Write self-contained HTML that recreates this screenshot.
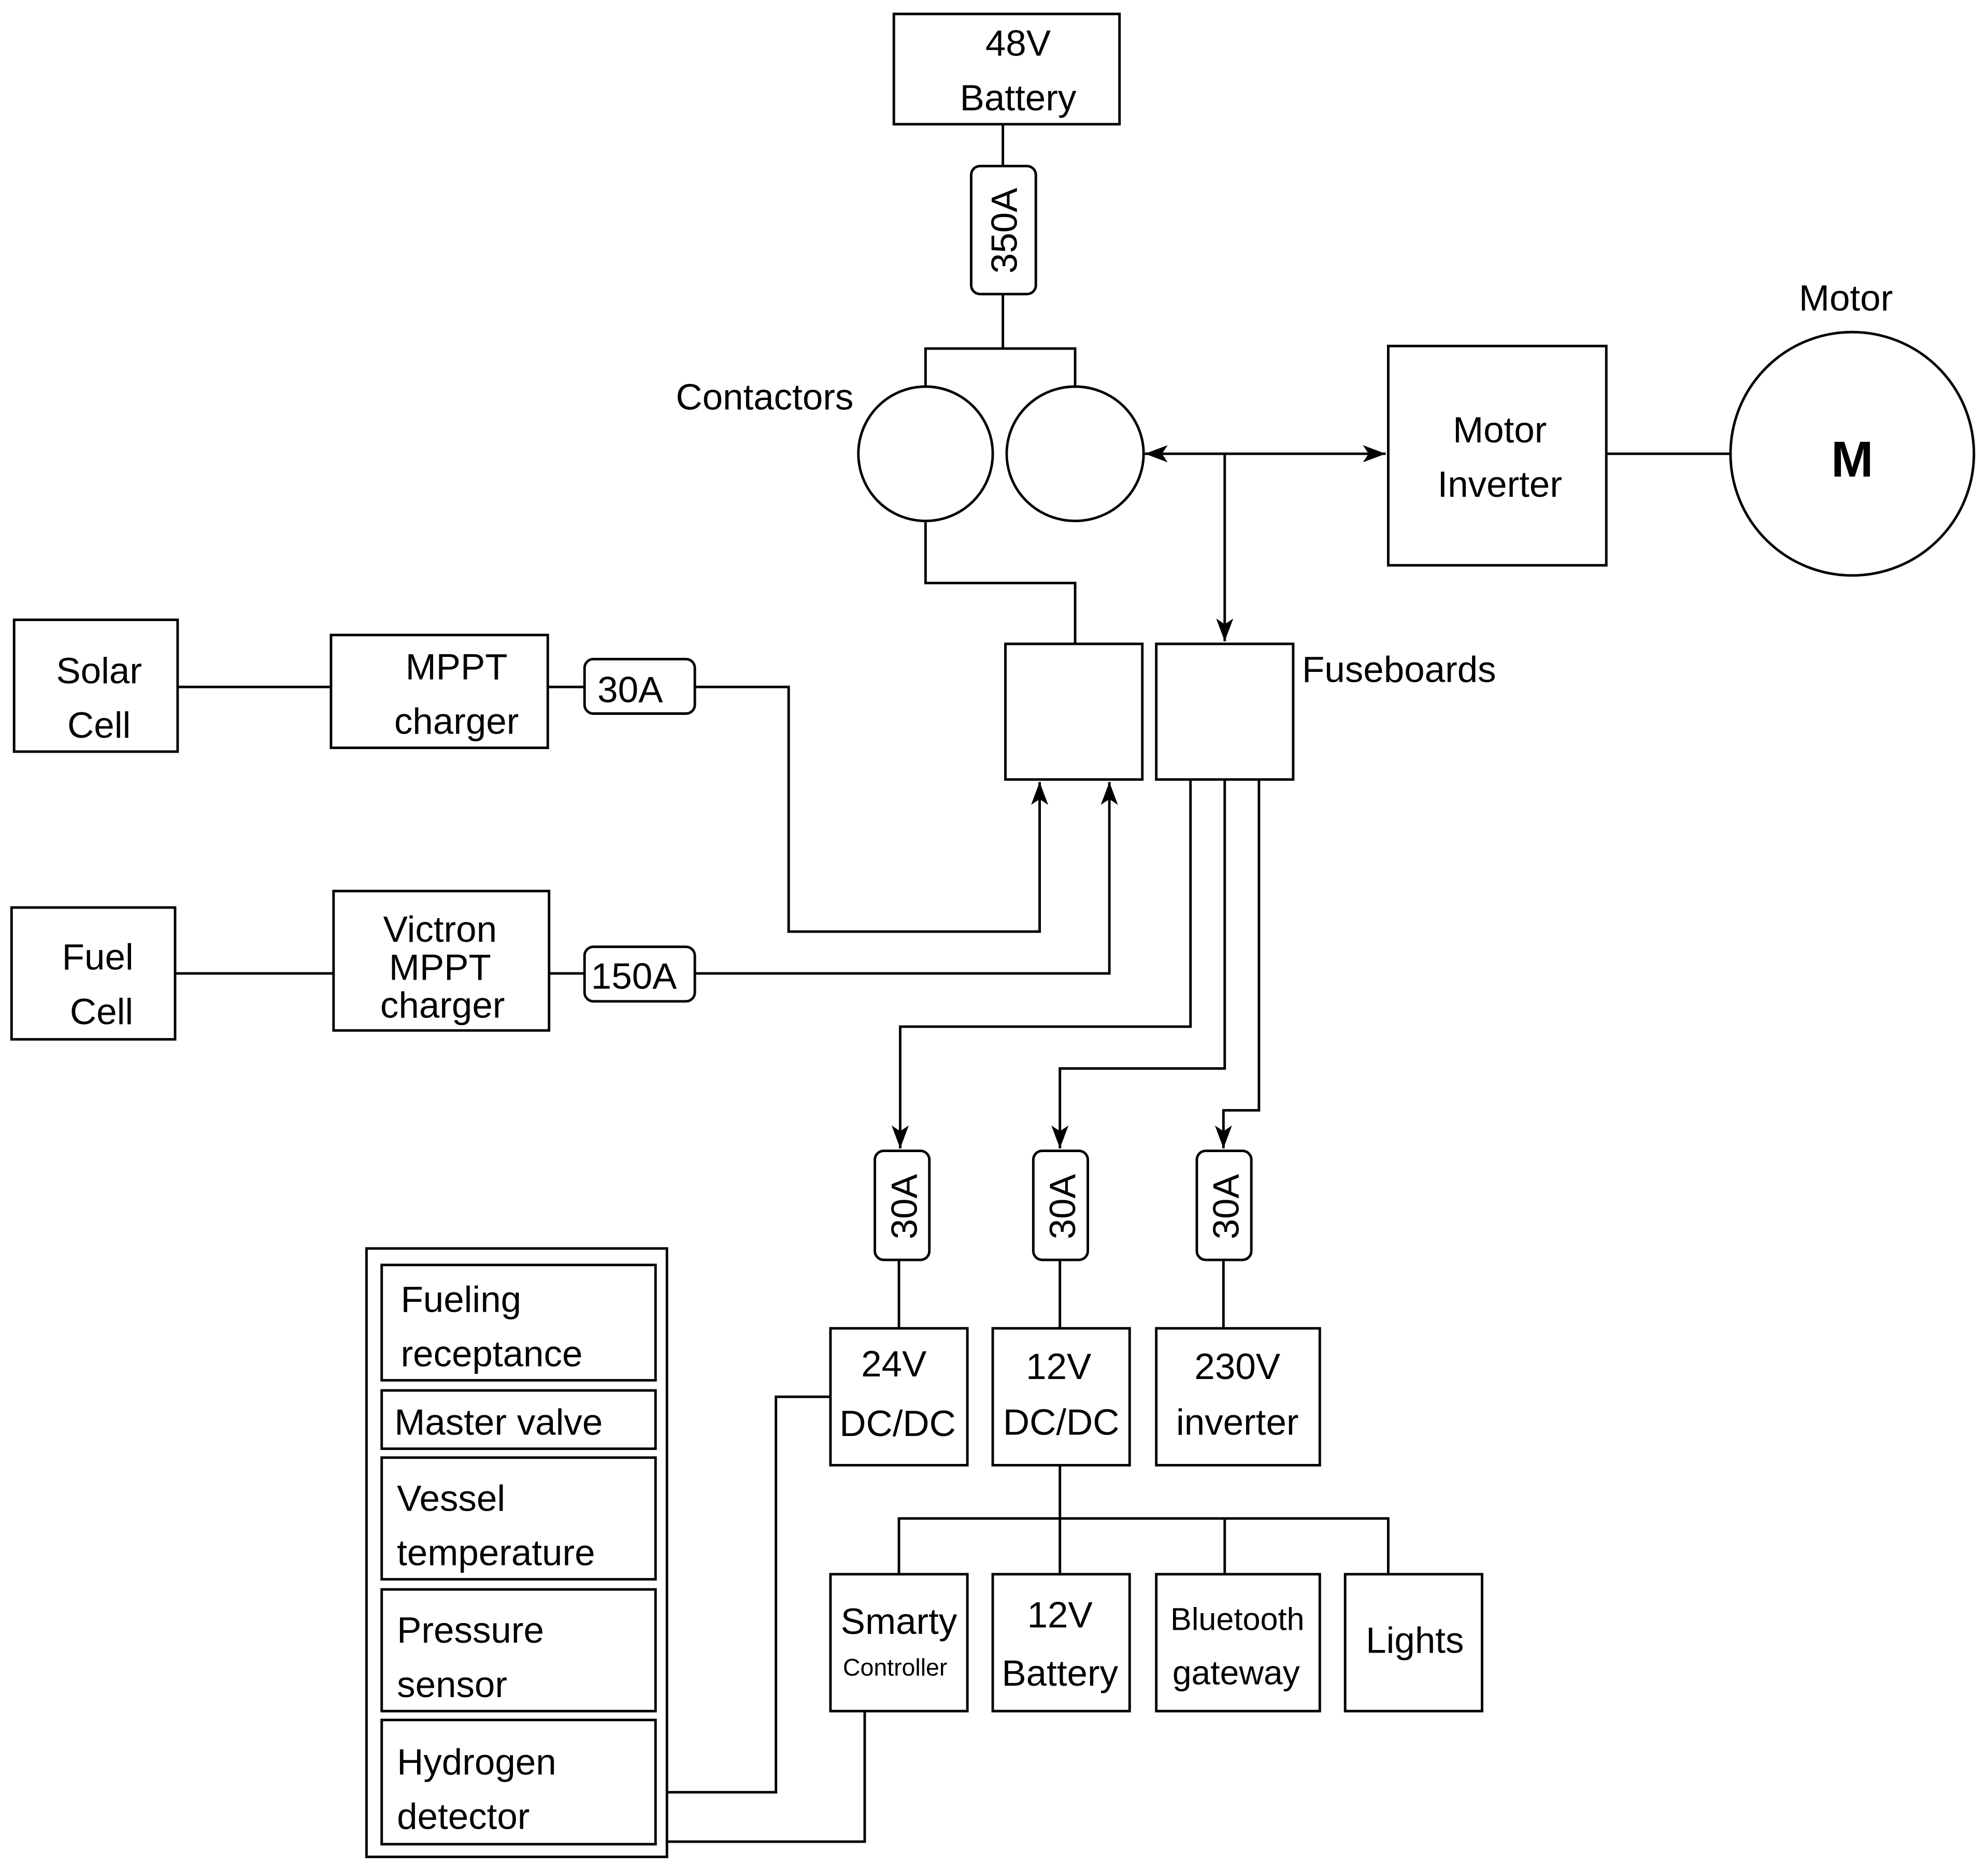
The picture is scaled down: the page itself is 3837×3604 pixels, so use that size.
<!DOCTYPE html>
<html><head><meta charset="utf-8"><style>
html,body{margin:0;padding:0;background:#fff;}
svg{display:block;}
text{font-family:"Liberation Sans",sans-serif;fill:#000;}
</style></head><body>
<svg width="3837" height="3604" viewBox="0 0 1568 1473" xmlns="http://www.w3.org/2000/svg">
<defs>
<marker id="a" viewBox="0 0 16 12" refX="16" refY="6" markerWidth="18" markerHeight="14" markerUnits="userSpaceOnUse" orient="auto-start-reverse">
<path d="M0,0 L16,6 L0,12 L4,6 z" fill="#000"/></marker>
</defs>
<g fill="none" stroke="#000" stroke-width="2">
<rect x="705" y="11" width="178" height="87"/>
<line x1="791" y1="98" x2="791" y2="131"/>
<rect x="766" y="131" width="51" height="101" rx="7"/>
<line x1="791" y1="232" x2="791" y2="275"/>
<polyline points="730,305 730,275 848,275 848,305"/>
<ellipse cx="730" cy="358" rx="53" ry="53"/>
<ellipse cx="848" cy="358" rx="54" ry="53"/>
<line x1="903" y1="358" x2="1093" y2="358" marker-start="url(#a)" marker-end="url(#a)"/>
<line x1="966" y1="358" x2="966" y2="506" marker-end="url(#a)"/>
<rect x="1095" y="273" width="172" height="173"/>
<line x1="1267" y1="358" x2="1365" y2="358"/>
<circle cx="1461" cy="358" r="96"/>
<polyline points="730,411 730,460 848,460 848,508"/>
<rect x="793" y="508" width="108" height="107"/>
<rect x="912" y="508" width="108" height="107"/>
<rect x="11" y="489" width="129" height="104"/>
<line x1="140" y1="542" x2="261" y2="542"/>
<rect x="261" y="501" width="171" height="89"/>
<line x1="432" y1="542" x2="461" y2="542"/>
<rect x="461" y="520" width="87" height="43" rx="7"/>
<polyline points="548,542 622,542 622,735 820,735 820,617" marker-end="url(#a)"/>
<rect x="9" y="716" width="129" height="104"/>
<line x1="138" y1="768" x2="263" y2="768"/>
<rect x="263" y="703" width="170" height="110"/>
<line x1="433" y1="768" x2="461" y2="768"/>
<rect x="461" y="747" width="87" height="43" rx="7"/>
<polyline points="548,768 875,768 875,617" marker-end="url(#a)"/>
<polyline points="939,615 939,810 710,810 710,906" marker-end="url(#a)"/>
<polyline points="966,615 966,843 836,843 836,906" marker-end="url(#a)"/>
<polyline points="993,615 993,876 965,876 965,906" marker-end="url(#a)"/>
<rect x="690" y="908" width="43" height="86" rx="7"/>
<rect x="815" y="908" width="43" height="86" rx="7"/>
<rect x="944" y="908" width="43" height="86" rx="7"/>
<line x1="709" y1="994" x2="709" y2="1048"/>
<line x1="836" y1="994" x2="836" y2="1048"/>
<line x1="965" y1="994" x2="965" y2="1048"/>
<rect x="655" y="1048" width="108" height="108"/>
<rect x="783" y="1048" width="108" height="108"/>
<rect x="912" y="1048" width="129" height="108"/>
<line x1="836" y1="1156" x2="836" y2="1198"/>
<polyline points="709,1242 709,1198 1095,1198 1095,1242"/>
<line x1="836" y1="1198" x2="836" y2="1242"/>
<line x1="966" y1="1198" x2="966" y2="1242"/>
<rect x="655" y="1242" width="108" height="108"/>
<rect x="783" y="1242" width="108" height="108"/>
<rect x="912" y="1242" width="129" height="108"/>
<rect x="1061" y="1242" width="108" height="108"/>
<rect x="289" y="985" width="237" height="480"/>
<rect x="301" y="998" width="216" height="91"/>
<rect x="301" y="1097" width="216" height="46"/>
<rect x="301" y="1150" width="216" height="96"/>
<rect x="301" y="1254" width="216" height="96"/>
<rect x="301" y="1357" width="216" height="98"/>
<polyline points="526,1414 612,1414 612,1102 655,1102"/>
<polyline points="526,1453 682,1453 682,1350"/>
</g>
<g font-size="29" text-anchor="middle">
<text x="803" y="44">48V</text>
<text x="803" y="87">Battery</text>
<text transform="translate(802,182) rotate(-90)">350A</text>
<text x="1183" y="349">Motor</text>
<text x="1183" y="392">Inverter</text>
<text x="1456" y="245">Motor</text>
<text x="1461" y="376" font-weight="bold" font-size="40">M</text>
<text x="78" y="539">Solar</text>
<text x="78" y="582">Cell</text>
<text x="360" y="536">MPPT</text>
<text x="360" y="579">charger</text>
<text x="497" y="554">30A</text>
<text x="77" y="765">Fuel</text>
<text x="80" y="808">Cell</text>
<text x="347" y="743">Victron</text>
<text x="347" y="773">MPPT</text>
<text x="349" y="803">charger</text>
<text x="500" y="780">150A</text>
<text transform="translate(723,952) rotate(-90)">30A</text>
<text transform="translate(848,952) rotate(-90)">30A</text>
<text transform="translate(977,952) rotate(-90)">30A</text>
<text x="705" y="1086">24V</text>
<text x="708" y="1133">DC/DC</text>
<text x="835" y="1088">12V</text>
<text x="837" y="1132">DC/DC</text>
<text x="976" y="1088">230V</text>
<text x="976" y="1132">inverter</text>
<text x="709" y="1289">Smarty</text>
<text x="706" y="1322" font-size="19">Controller</text>
<text x="836" y="1284">12V</text>
<text x="836" y="1330">Battery</text>
<text x="976" y="1286" font-size="25">Bluetooth</text>
<text x="975" y="1329" font-size="27">gateway</text>
<text x="1116" y="1304">Lights</text>
</g>
<g font-size="29">
<text x="533" y="323">Contactors</text>
<text x="1027" y="538">Fuseboards</text>
<text x="316" y="1035">Fueling</text>
<text x="316" y="1078">receptance</text>
<text x="311" y="1132">Master valve</text>
<text x="313" y="1192">Vessel</text>
<text x="313" y="1235">temperature</text>
<text x="313" y="1296">Pressure</text>
<text x="313" y="1339">sensor</text>
<text x="313" y="1400">Hydrogen</text>
<text x="313" y="1443">detector</text>
</g>
</svg>
</body></html>
